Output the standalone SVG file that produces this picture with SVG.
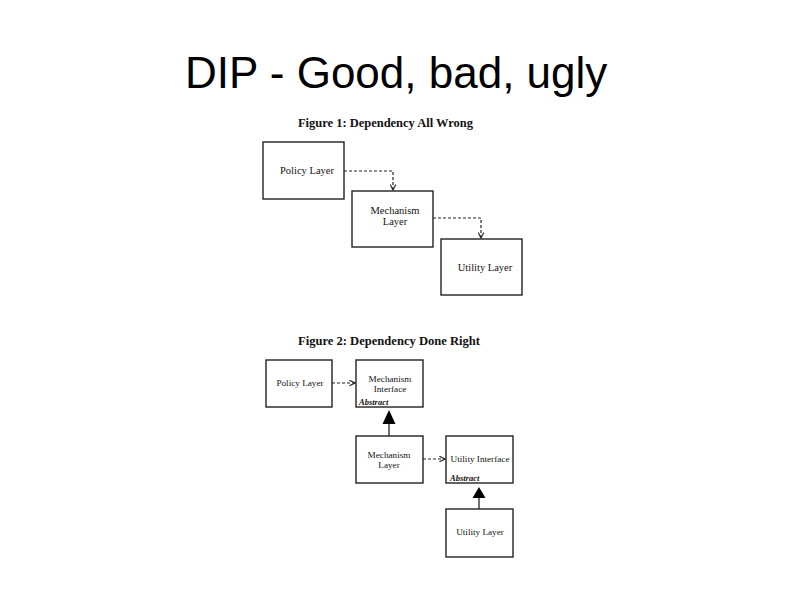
<svg xmlns="http://www.w3.org/2000/svg" width="794" height="595" viewBox="0 0 794 595">
<defs>
<style>
.box{fill:#fff;stroke:#222;stroke-width:1.4}
.lbl{font-family:"Liberation Serif",serif;font-size:10.5px;fill:#111;text-anchor:middle}
.lbl2{font-family:"Liberation Serif",serif;font-size:9.2px;fill:#111;text-anchor:middle}
.abs{font-family:"Liberation Serif",serif;font-size:8.5px;font-weight:bold;font-style:italic;fill:#111}
.cap{font-family:"Liberation Serif",serif;font-size:12.4px;font-weight:bold;fill:#111}
.dash{fill:none;stroke:#222;stroke-width:1.2;stroke-dasharray:3 2}
.solid{fill:none;stroke:#222;stroke-width:1.3}
.tri{fill:#000}
</style>
<marker id="v" viewBox="0 0 10 10" refX="9" refY="5" markerWidth="7" markerHeight="7" orient="auto" markerUnits="userSpaceOnUse">
<path d="M1,1 L9,5 L1,9" fill="none" stroke="#222" stroke-width="1.6"/>
</marker>
</defs>
<rect width="794" height="595" fill="#fff"/>
<text x="185" y="88" font-family="Liberation Sans, Arial, sans-serif" font-size="44" fill="#000">DIP - Good, bad, ugly</text>

<text class="cap" x="298" y="127" textLength="175" lengthAdjust="spacingAndGlyphs">Figure 1: Dependency All Wrong</text>
<text class="cap" x="298" y="345" textLength="182" lengthAdjust="spacingAndGlyphs">Figure 2: Dependency Done Right</text>

<g id="connectors">
<path class="dash" d="M344,171 H393 V190" marker-end="url(#v)"/>
<path class="dash" d="M433,218 H481 V238" marker-end="url(#v)"/>
<path class="dash" d="M332,383 H355" marker-end="url(#v)"/>
<path class="dash" d="M423,459 H445" marker-end="url(#v)"/>
<path class="solid" d="M389,424 V436"/>
<polygon class="tri" points="389,410 382.5,424 395.5,424"/>
<path class="solid" d="M479,498 V509"/>
<polygon class="tri" points="479,487 472.5,498 485.5,498"/>
</g>

<g id="f1-policy">
<rect class="box" x="263" y="142" width="81" height="57"/>
<text class="lbl" x="307" y="174">Policy Layer</text>
</g>
<g id="f1-mechanism">
<rect class="box" x="352" y="191" width="81" height="56"/>
<text class="lbl" x="395" y="214">Mechanism</text>
<text class="lbl" x="395" y="225">Layer</text>
</g>
<g id="f1-utility">
<rect class="box" x="441" y="239" width="81" height="56"/>
<text class="lbl" x="485" y="271">Utility Layer</text>
</g>

<g id="f2-policy">
<rect class="box" x="266" y="360" width="66" height="47"/>
<text class="lbl2" x="300" y="386">Policy Layer</text>
</g>
<g id="f2-mech-interface">
<rect class="box" x="356" y="360" width="67" height="47"/>
<text class="lbl2" x="390" y="382">Mechanism</text>
<text class="lbl2" x="390" y="392">Interface</text>
<text class="abs" x="359" y="405">Abstract</text>
</g>
<g id="f2-mech-layer">
<rect class="box" x="356" y="436" width="67" height="47"/>
<text class="lbl2" x="389" y="458">Mechanism</text>
<text class="lbl2" x="389" y="468">Layer</text>
</g>
<g id="f2-util-interface">
<rect class="box" x="446" y="436" width="67" height="47"/>
<text class="lbl2" x="480" y="462">Utility Interface</text>
<text class="abs" x="450" y="481">Abstract</text>
</g>
<g id="f2-util-layer">
<rect class="box" x="446" y="509" width="67" height="48"/>
<text class="lbl2" x="480" y="535">Utility Layer</text>
</g>
</svg>
